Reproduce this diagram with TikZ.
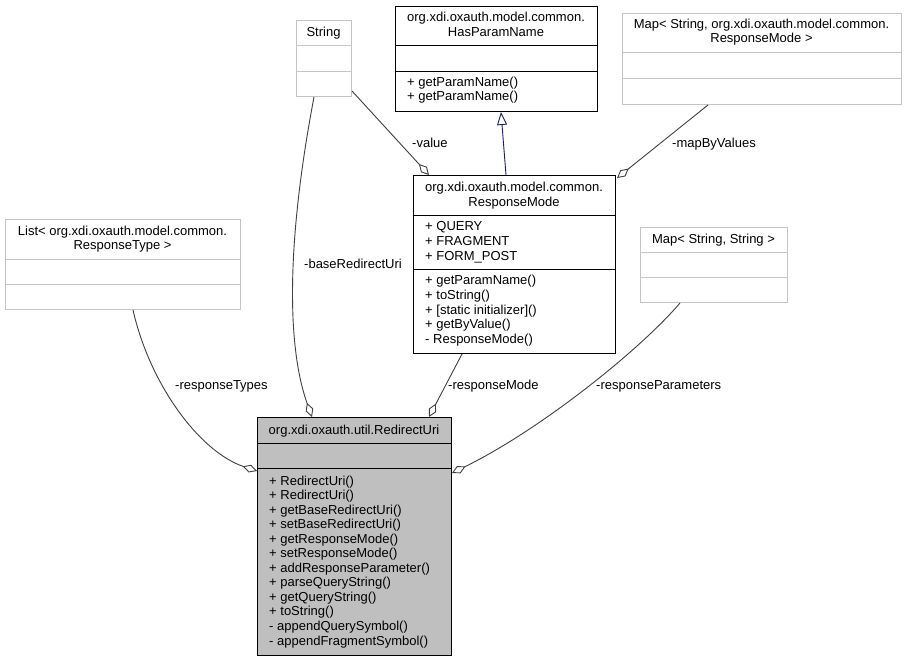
\documentclass[tikz,border=0pt]{standalone}
\usepackage{fontspec}
\setmainfont{Liberation Sans}
\usetikzlibrary{arrows.meta,calc}
\definecolor{edgegray}{HTML}{404040}
\definecolor{fillgray}{HTML}{BFBFBF}
\definecolor{extgray}{HTML}{C4C4C4}
\definecolor{navyedge}{HTML}{191970}
\tikzset{
  extbox/.style={draw=extgray, line width=1pt, fill=white, inner sep=0pt, anchor=north west},
  docbox/.style={draw=black, line width=1pt, fill=white, inner sep=0pt, anchor=north west},
  curbox/.style={draw=black, line width=1pt, fill=fillgray, inner sep=0pt, anchor=north west},
  extdiv/.style={draw=extgray, line width=1pt},
  docdiv/.style={draw=black, line width=1pt},
  hdr/.style={inner sep=0pt, anchor=base},
  mem/.style={inner sep=0pt, anchor=base west},
  elabel/.style={inner sep=0pt, anchor=base west},
  assoc/.style={draw=edgegray, line width=0.9pt, -{Diamond[open, length=15pt, width=8pt, fill=white]}},
  gener/.style={draw=navyedge, line width=0.9pt, -{Triangle[open, length=13pt, width=10pt, fill=white]}}
}
\begin{document}
\begin{tikzpicture}[x=1pt, y=-1pt, font=\fontsize{13}{14.6}\selectfont]
\useasboundingbox[fill=white] (0,0) rectangle (907,661);

% String
\node[extbox, minimum width=55pt, minimum height=76pt] (str) at (296,20) {};
\draw[extdiv] (296,46) -- (351,46) (296,71) -- (351,71);
\node[hdr] (strH) at (323.5,37) {String};

% HasParamName
\node[docbox, minimum width=202pt, minimum height=105pt] (hpn) at (395,6) {};
\draw[docdiv] (395,46) -- (597,46) (395,71) -- (597,71);
\node[hdr] (hpnH1) at (496,22) {org.xdi.oxauth.model.common.};
\node[hdr] (hpnH2) at (496,36.5) {HasParamName};
\node[mem] (hpnM1) at (407,86) {+ getParamName()};
\node[mem] (hpnM2) at (407,100.6) {+ getParamName()};

% Map<String, ResponseMode>
\node[extbox, minimum width=279pt, minimum height=91pt] (mrm) at (622,13) {};
\draw[extdiv] (622,53) -- (901,53) (622,78) -- (901,78);
\node[hdr] (mrmH1) at (761.5,28.5) {Map< String, org.xdi.oxauth.model.common.};
\node[hdr] (mrmH2) at (761.5,43) {ResponseMode >};

% ResponseMode
\node[docbox, minimum width=202pt, minimum height=178pt] (rm) at (413,175) {};
\draw[docdiv] (413,215) -- (615,215) (413,269) -- (615,269);
\node[hdr] (rmH1) at (514,191.5) {org.xdi.oxauth.model.common.};
\node[hdr] (rmH2) at (514,206) {ResponseMode};
\foreach \t [count=\i from 0] in {+ QUERY, + FRAGMENT, + FORM\_POST}
  \node[mem] (rmA\i) at (425,230.5+14.8*\i) {\t};
\foreach \t [count=\i from 0] in {+ getParamName(), + toString(), + [static initializer](), + getByValue(), - ResponseMode()}
  \node[mem] (rmM\i) at (425,284.5+14.75*\i) {\t};

% List<ResponseType>
\node[extbox, minimum width=235pt, minimum height=90pt] (lst) at (5,219) {};
\draw[extdiv] (5,259) -- (240,259) (5,284) -- (240,284);
\node[hdr] (lstH1) at (122.5,235) {List< org.xdi.oxauth.model.common.};
\node[hdr] (lstH2) at (122.5,249.5) {ResponseType >};

% Map<String, String>
\node[extbox, minimum width=147pt, minimum height=75pt] (mss) at (640,227) {};
\draw[extdiv] (640,252) -- (787,252) (640,277) -- (787,277);
\node[hdr] (mssH) at (713.5,243) {Map< String, String >};

% RedirectUri
\node[curbox, minimum width=194pt, minimum height=238pt] (ru) at (257,417) {};
\draw[docdiv] (257,443) -- (451,443) (257,468) -- (451,468);
\node[hdr] (ruH) at (354,434.5) {org.xdi.oxauth.util.RedirectUri};
\foreach \t [count=\i from 0] in {+ RedirectUri(), + RedirectUri(), + getBaseRedirectUri(), + setBaseRedirectUri(), + getResponseMode(), + setResponseMode(), + addResponseParameter(), + parseQueryString(), + getQueryString(), + toString(), - appendQuerySymbol(), - appendFragmentSymbol()}
  \node[mem] (ruM\i) at (269,485+14.55*\i) {\t};

% connectors
\draw[gener] ($(rm.north west)+(93,0)$) -- ($(hpn.south west)+(106,0)$);
\draw[assoc] ($(str.south east)+(0,-6)$) -- ($(rm.north west)+(16,0)$);
\draw[assoc] ($(mrm.south west)+(86,0)$) -- ($(rm.north east)+(1,3)$);
\draw[assoc] ($(lst.south west)+(128,0)$) .. controls (150,385) and (200,452) .. ($(ru.north west)+(0,54)$);
\draw[assoc] ($(str.south west)+(18,0)$) .. controls (285,250) and (288,350) .. ($(ru.north west)+(55,0)$);
\draw[assoc] ($(rm.south west)+(49,0)$) -- ($(ru.north west)+(172,0)$);
\draw[assoc] ($(mss.south west)+(40,0)$) .. controls (640,350) and (540,430) .. ($(ru.north east)+(0,56)$);

% labels
\node[elabel] (lv) at (412,147) {-value};
\node[elabel] (lmb) at (672,147) {-mapByValues};
\node[elabel] (lbr) at (304,268) {-baseRedirectUri};
\node[elabel] (lrt) at (175,389) {-responseTypes};
\node[elabel] (lrm) at (448,389) {-responseMode};
\node[elabel] (lrp) at (596,389) {-responseParameters};
\end{tikzpicture}
\end{document}
